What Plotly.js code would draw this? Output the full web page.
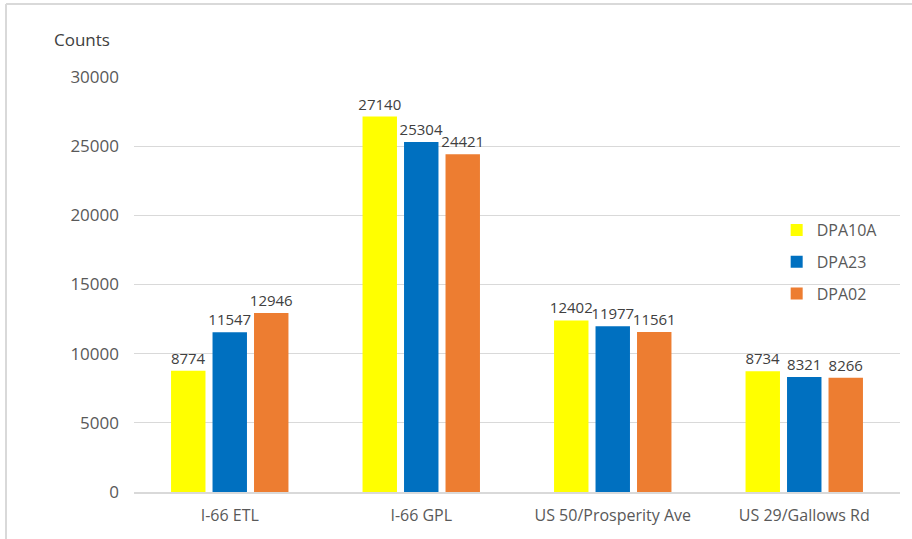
<!DOCTYPE html>
<html>
<head>
<meta charset="utf-8">
<script src="https://cdn.plot.ly/plotly-3.0.1.min.js"></script>
<style>html,body{margin:0;padding:0;background:#fff;}#chart{width:912px;height:539px;}</style>
</head>
<body>
<div id="chart"></div>
<script>
const categories = ["I-66 ETL", "I-66 GPL", "US 50/Prosperity Ave", "US 29/Gallows Rd"];
const seriesNames = ["DPA10A", "DPA23", "DPA02"];
const dpa10a = [8774, 27140, 12402, 8734];
const dpa23 = [11547, 25304, 11977, 8321];
const dpa02 = [12946, 24421, 11561, 8266];
const colors = ["#FFFF00", "#0070C0", "#ED7D31"];
const yTicks = [0, 5000, 10000, 15000, 20000, 25000, 30000];

const font = "Open Sans, Liberation Sans, sans-serif";
const values = [dpa10a, dpa23, dpa02];
const traces = values.map((v, i) => ({
  type: "bar",
  x: categories,
  y: v,
  name: seriesNames[i],
  legendgroup: "g" + i,
  marker: {color: colors[i]},
  text: v.map(String),
  textposition: "outside",
  constraintext: "none",
  cliponaxis: false,
  textfont: {family: font, size: 15, color: "#404040"}
}));

const layout = {
  width: 912, height: 539,
  margin: {l: 134, r: 12, t: 77, b: 47},
  paper_bgcolor: "#fff", plot_bgcolor: "#fff",
  barmode: "group",
  bargap: 0.35,
  bargroupgap: 0.17,
  font: {family: font, size: 15, color: "#595959"},
  xaxis: {
    showgrid: false, showline: true, linecolor: "#d9d9d9", linewidth: 2,
    ticks: "", ticklabelstandoff: 8, tickfont: {size: 16, color: "#595959"}
  },
  yaxis: {
    range: [0, 30000], tickvals: yTicks, ticktext: yTicks.map(String),
    showgrid: true, gridcolor: "#d9d9d9", zeroline: false, showline: false,
    ticks: "", ticklabelstandoff: 14, tickfont: {size: 17, color: "#595959"}
  },
  showlegend: true,
  legend: {
    x: 0.839, y: 0.672, xanchor: "left", yanchor: "top",
    traceorder: "grouped", tracegroupgap: 8,
    font: {size: 16, color: "#595959"}, bgcolor: "rgba(0,0,0,0)",
    itemwidth: 30
  },
  annotations: [{
    text: "Counts", xref: "paper", yref: "paper",
    x: (52 - 134) / 766, y: (492 - 40) / 415, xanchor: "left", yanchor: "middle",
    showarrow: false, font: {size: 17, color: "#404040"}
  }],
  shapes: [
    {type: "line", xref: "paper", yref: "paper", x0: (6 - 134) / 766, x1: (6 - 134) / 766,
     y0: (492 - 4) / 415, y1: (492 - 539) / 415, line: {color: "#d9d9d9", width: 2}},
    {type: "line", xref: "paper", yref: "paper", x0: (6 - 134) / 766, x1: (912 - 134) / 766,
     y0: (492 - 4) / 415, y1: (492 - 4) / 415, line: {color: "#d9d9d9", width: 2}}
  ]
};

Plotly.newPlot("chart", traces, layout, {displayModeBar: false, staticPlot: true});
</script>
</body>
</html>
